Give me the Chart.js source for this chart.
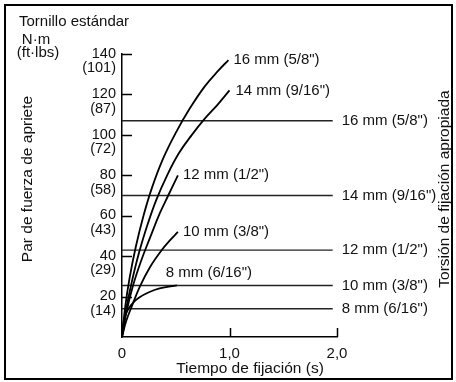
<!DOCTYPE html>
<html>
<head>
<meta charset="utf-8">
<script src="https://cdn.jsdelivr.net/npm/chart.js@4/dist/chart.umd.min.js"></script>
<style>
  html, body { margin: 0; padding: 0; background: #fff; }
  #wrap { width: 456px; height: 382px; position: relative; }
</style>
</head>
<body>
<div id="wrap"><canvas id="torqueChart"></canvas></div>
<script>
// curve data (time in s, torque in N·m)
const t16 = [0, 0.03, 0.07, 0.13, 0.2, 0.28, 0.38, 0.5, 0.63, 0.77, 0.9, 0.99];
const nm16 = [0, 15, 29, 45, 60, 74, 88, 101, 113, 124, 132, 137];
const t14 = [0, 0.04, 0.09, 0.16, 0.24, 0.32, 0.42, 0.53, 0.65, 0.77, 0.89, 1.0];
const nm14 = [0, 14, 27, 42, 56, 68, 80, 91, 100, 108, 115, 122];
const t12 = [0, 0.04, 0.1, 0.18, 0.26, 0.35, 0.43, 0.52];
const nm12 = [0, 12, 25, 38, 49, 61, 70, 80];
const t10 = [0, 0.04, 0.09, 0.167, 0.26, 0.37, 0.45, 0.52];
const nm10 = [0, 8, 15, 25, 34.5, 43, 48, 52];
const t8 = [0, 0.01, 0.03, 0.06, 0.1, 0.16, 0.245, 0.35, 0.51];
const nm8 = [0, 6, 10.5, 14, 16.8, 19.5, 22, 24, 25.5];

const sizeLabels = ['16 mm (5/8")', '14 mm (9/16")', '12 mm (1/2")', '10 mm (3/8")', '8 mm (6/16")'];
const properTorque = [107, 70, 43, 25.5, 14];   // appropriate torque lines
const lineEnd = 1.96;

const yTickValues = [20, 40, 60, 80, 100, 120, 140];
const ftLbs = [14, 29, 43, 58, 72, 87, 101];
const xTickValues = [0, 1, 2];
const xTickLabels = ['0', '1,0', '2,0'];

// label offsets for the curve-end labels (px)
const curveLabelOffset = [[5, 0], [6, 0], [5, 0], [5, 0], [-11, -13]];

const FONT = '"Liberation Sans", Arial, sans-serif';
const INK = '#111';

const curves = [[t16, nm16], [t14, nm14], [t12, nm12], [t10, nm10], [t8, nm8]];

const datasets = [];
curves.forEach(([xs, ys], i) => {
  datasets.push({
    label: sizeLabels[i],
    data: xs.map((x, k) => ({ x: x, y: ys[k] })),
    borderColor: '#000',
    borderWidth: 1.8,
    pointRadius: 0,
    tension: 0.4,
    kind: 'curve',
    idx: i
  });
});
properTorque.forEach((v, i) => {
  datasets.push({
    label: sizeLabels[i],
    data: [{ x: 0, y: v }, { x: lineEnd, y: v }],
    borderColor: '#222',
    borderWidth: 1.4,
    pointRadius: 0,
    kind: 'level',
    idx: i
  });
});

// text labels, inward tick marks, titles and frame
const decor = {
  id: 'decor',
  afterDraw(chart) {
    const ctx = chart.ctx;
    const xs = chart.scales.x, ys = chart.scales.y;
    ctx.save();
    ctx.fillStyle = INK;
    ctx.strokeStyle = '#000';
    ctx.font = '15px ' + FONT;
    ctx.textBaseline = 'middle';
    ctx.textAlign = 'left';

    chart.data.datasets.forEach((ds, di) => {
      const meta = chart.getDatasetMeta(di);
      const last = meta.data[meta.data.length - 1];
      if (ds.kind === 'curve') {
        const off = curveLabelOffset[ds.idx];
        ctx.fillText(ds.label, last.x + off[0], last.y + off[1]);
      } else {
        ctx.fillText(ds.label, last.x + 9, last.y);
      }
    });

    // inward ticks
    ctx.lineWidth = 1.5;
    ctx.beginPath();
    yTickValues.forEach(v => {
      const py = Math.round(ys.getPixelForValue(v)) + 0.5;
      ctx.moveTo(xs.left, py);
      ctx.lineTo(xs.left + 10, py);
    });
    xTickValues.slice(1).forEach(v => {
      const px = Math.round(xs.getPixelForValue(v)) + 0.5;
      ctx.moveTo(px, ys.bottom);
      ctx.lineTo(px, ys.bottom - 9);
    });
    ctx.stroke();

    // headings
    ctx.textAlign = 'left';
    ctx.fillText('Tornillo estándar', 19, 22);
    ctx.textAlign = 'center';
    ctx.fillText('N·m', 36, 40);
    ctx.fillText('(ft·lbs)', 38, 53);
    ctx.font = '15.5px ' + FONT;
    ctx.fillText('Tiempo de fijación (s)', 250, 369);

    ctx.save();
    ctx.translate(28, 179);
    ctx.rotate(-Math.PI / 2);
    ctx.fillText('Par de fuerza de apriete', 0, 0);
    ctx.restore();
    ctx.save();
    ctx.translate(445, 189);
    ctx.rotate(-Math.PI / 2);
    ctx.fillText('Torsión de fijación apropiada', 0, 0);
    ctx.restore();

    // frame
    ctx.lineWidth = 2;
    ctx.strokeRect(5, 5, 447, 374);
    ctx.restore();
  }
};

new Chart(document.getElementById('torqueChart'), {
  type: 'line',
  data: { datasets: datasets },
  options: {
    responsive: true,
    maintainAspectRatio: false,
    animation: false,
    layout: { padding: { left: 0, right: 119, top: 54, bottom: 0 } },
    plugins: { legend: { display: false }, tooltip: { enabled: false } },
    scales: {
      x: {
        type: 'linear',
        min: 0,
        max: 2,
        afterFit(s) { s.height = 45; },
        afterBuildTicks(s) { s.ticks = xTickValues.map(v => ({ value: v })); },
        grid: { display: false, drawTicks: false },
        border: { display: true, color: '#000', width: 1.5 },
        ticks: {
          padding: 8,
          color: INK,
          font: { family: FONT, size: 15 },
          maxRotation: 0,
          callback: (v) => xTickLabels[xTickValues.indexOf(v)]
        }
      },
      y: {
        type: 'linear',
        min: 0,
        max: 140,
        afterFit(s) { s.width = 122; },
        afterBuildTicks(s) { s.ticks = yTickValues.map(v => ({ value: v })); },
        grid: { display: false, drawTicks: false },
        border: { display: true, color: '#000', width: 1.5 },
        ticks: {
          padding: 6,
          color: INK,
          labelOffset: 7,
          font: { family: FONT, size: 14.5, lineHeight: 1.0 },
          callback: (v) => [String(v), '(' + ftLbs[yTickValues.indexOf(v)] + ')']
        }
      }
    }
  },
  plugins: [decor]
});
</script>
</body>
</html>
